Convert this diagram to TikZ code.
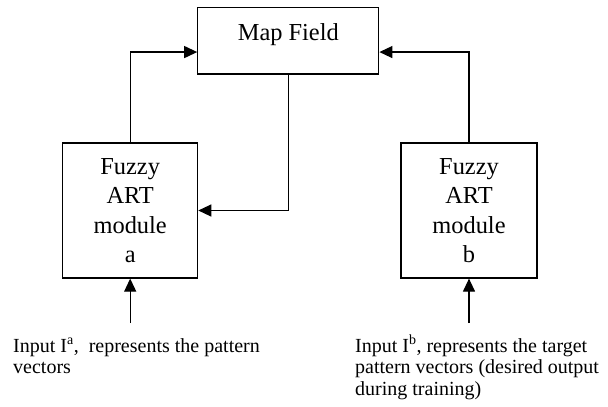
\documentclass[tikz,border=0pt]{standalone}
\usepackage{fontspec}
\setmainfont{Liberation Serif}
\usetikzlibrary{arrows.meta}
\begin{document}
\begin{tikzpicture}[x=1pt,y=-1pt,
  box/.style={draw,line width=1.2pt,inner sep=0pt,align=center,
    font=\fontsize{24.4}{29.3}\selectfont},
  arr/.style={line width=1.2pt,-{Triangle[length=13pt,width=12pt]}},
  note/.style={inner sep=0pt,align=left,anchor=base west,
    font=\fontsize{20}{21.5}\selectfont}]
\useasboundingbox (0,0) rectangle (608,407);
\node[box,minimum width=181pt,minimum height=66.7pt,text height=20pt,text depth=20pt]
  (map) at (288.3,40.65) {Map Field};
\node[box,minimum width=135pt,minimum height=135pt] (a) at (130.2,210.5)
  {\raisebox{-2.5pt}{\parbox{130pt}{\centering Fuzzy\\ART\\module\\a}}};
\node[box,minimum width=136pt,minimum height=135pt] (b) at (469,210.5)
  {\raisebox{-2.5pt}{\parbox{130pt}{\centering Fuzzy\\ART\\module\\b}}};
\coordinate (ina) at (130.2,323);
\coordinate (inb) at (469,323);
\draw[arr] (a.north) |- ([yshift=-11.4pt]map.west);
\draw[arr] (b.north) |- ([yshift=-11.4pt]map.east);
\draw[arr] (map.south) |- (a.east);
\draw[arr] (ina) -- (a.south);
\draw[arr] (inb) -- (b.south);
\node[note] (ta) at (13,373.5) {Input I\textsuperscript{a},\ \ represents the pattern\\vectors};
\node[note] (tb) at (355,395) {Input I\textsuperscript{b}, represents the target\\pattern vectors (desired output\\during training)};
\end{tikzpicture}
\end{document}
